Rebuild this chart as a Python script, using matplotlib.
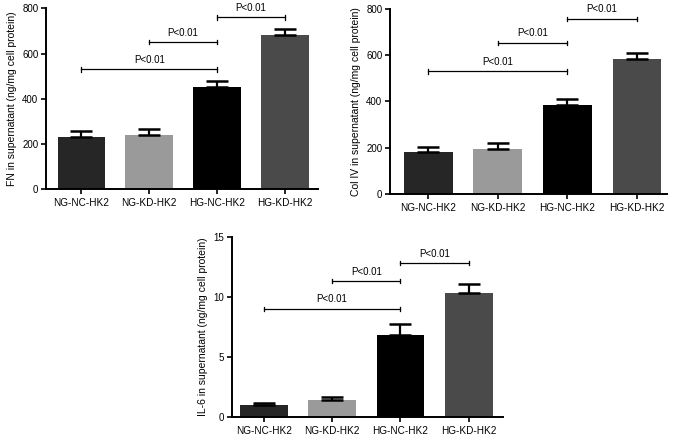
import numpy as np
import matplotlib
matplotlib.use("Agg")
from matplotlib import pyplot as plt

plt.rcParams['font.family'] = ['Liberation Sans', 'DejaVu Sans']

groups = ['NG-NC-HK2', 'NG-KD-HK2', 'HG-NC-HK2', 'HG-KD-HK2']
colors = ['#262626', '#9a9a9a', '#000000', '#4a4a4a']

fn_mean = [233, 241, 452, 682]
fn_err = [23, 26, 26, 27]
col4_mean = [183, 193, 383, 584]
col4_err = [22, 26, 26, 27]
il6_mean = [1.0, 1.37, 6.8, 10.3]
il6_err = [0.15, 0.25, 0.9, 0.8]

# (from bar, to bar, height) for the P<0.01 brackets
fn_sig = [(0, 2, 530), (1, 2, 650), (2, 3, 760)]
col4_sig = [(0, 2, 530), (1, 2, 652), (2, 3, 757)]
il6_sig = [(0, 2, 9.0), (1, 2, 11.3), (2, 3, 12.8)]

fn_ticks = [0, 200, 400, 600, 800]
il6_ticks = [0, 5, 10, 15]


def panel(ax, mean, err, sig, ylabel, yticks, xlim):
    x = np.arange(len(groups))
    ax.bar(x, mean, width=0.7, color=colors, zorder=2)
    ax.errorbar(x, mean, yerr=[np.zeros(len(err)), err], fmt='none',
                ecolor='black', elinewidth=1.6, capsize=8, capthick=1.8,
                zorder=3)
    ymax = yticks[-1]
    tick = ymax * 0.012
    for a, b, h in sig:
        ax.plot([a, b], [h, h], color='black', lw=0.9)
        ax.plot([a, a], [h - tick, h + tick], color='black', lw=0.9)
        ax.plot([b, b], [h - tick, h + tick], color='black', lw=0.9)
        ax.text((a + b) / 2, h + ymax * 0.025, 'P<0.01', ha='center',
                va='bottom', fontsize=7)
    ax.set_xlim(*xlim)
    ax.set_ylim(0, ymax)
    ax.set_yticks(yticks)
    ax.set_xticks(x)
    ax.set_xticklabels(groups, fontsize=7.2)
    ax.tick_params(axis='y', labelsize=7, width=1.2, length=3.5, pad=2)
    ax.tick_params(axis='x', width=1.2, length=3.5, pad=3)
    ax.set_ylabel(ylabel, fontsize=7.5, labelpad=4)
    for s in ['top', 'right']:
        ax.spines[s].set_visible(False)
    for s in ['left', 'bottom']:
        ax.spines[s].set_linewidth(1.4)


fig = plt.figure(figsize=(6.77, 4.41), dpi=100)
ax1 = fig.add_axes([0.068, 0.571, 0.402, 0.410])
ax2 = fig.add_axes([0.576, 0.560, 0.409, 0.420])
ax3 = fig.add_axes([0.342, 0.055, 0.401, 0.408])

panel(ax1, fn_mean, fn_err, fn_sig,
      'FN in supernatant (ng/mg cell protein)', fn_ticks, (-0.52, 3.49))
panel(ax2, col4_mean, col4_err, col4_sig,
      'Col IV in supernatant (ng/mg cell protein)', fn_ticks, (-0.55, 3.43))
panel(ax3, il6_mean, il6_err, il6_sig,
      'IL-6 in supernatant (ng/mg cell protein)', il6_ticks, (-0.47, 3.50))

fig.savefig('out.png', dpi=100)
